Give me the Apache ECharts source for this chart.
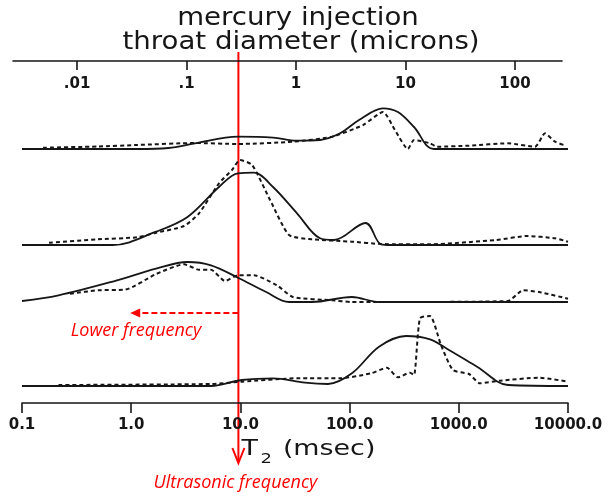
<!DOCTYPE html>
<html>
<head>
<meta charset="utf-8">
<script src="https://cdn.jsdelivr.net/npm/echarts@6/dist/echarts.min.js"></script>
<style>
  html, body { margin: 0; padding: 0; background: #ffffff; }
  #chart { width: 610px; height: 496px; }
</style>
</head>
<body>
<div id="chart"></div>
<script>
// T2 relaxation time axis (msec), log scale
const t2Min = 0.1;
const t2Max = 10000;
const t2TickLabels = { 0.1: '0.1', 1: '1.0', 10: '10.0', 100: '100.0', 1000: '1000.0', 10000: '10000.0' };

// Mercury injection throat diameter axis (microns), log scale
const throatMin = 0.0026;
const throatMax = 269;
const throatTicks = [0.01, 0.1, 1, 10, 100];
const throatTickLabels = ['.01', '.1', '1', '10', '100'];

// Sample 1: [T2 (msec), relative amplitude]
const s1Solid = [[0.1, 0], [1.13, 0], [2.2, 1], [3.84, 5.7], [9.5, 12.3], [19.9, 11.3], [33, 8.3], [53.6, 9], [81.7, 15.7], [122, 29], [202, 40.7], [277, 37], [389, 22], [593, 0], [10000, 0]];
const s1Dashed = [[0.156, 1.3], [0.5, 2.5], [1.13, 4], [3.84, 6], [9.5, 5], [30.3, 7.3], [69, 12.3], [133, 24], [202, 37], [260, 19], [342, 0], [389, 9], [545, 5.7], [631, 2.3], [1240, 3.3], [2820, 5.7], [4990, 2.3], [6150, 15.7], [7600, 7.3], [9600, 3.3]];

// Sample 2
const s2Solid = [[0.1, 0], [0.681, 0], [1.69, 13.3], [3.28, 28], [6.37, 58], [9.5, 71.7], [13.3, 72.3], [19.9, 58], [33, 31.7], [53.6, 6.7], [71.9, 5], [140, 22], [194, 0.7], [239, 0], [10000, 0]];
const s2Dashed = [[0.177, 2.3], [0.497, 5.7], [1.13, 7.7], [1.69, 12.3], [3.05, 19], [4.18, 31.7], [6.37, 61.7], [8.37, 75], [9.91, 85], [12.8, 80], [18.7, 45], [27.9, 10], [45.3, 5.7], [105, 3.3], [194, 1], [545, 0.7], [2190, 5], [4220, 9], [7600, 6.7], [10000, 3.3]];

// Sample 3
const s3Solid = [[0.1, 1], [0.216, 6.7], [0.741, 21.7], [1.69, 33.3], [3.28, 40], [5.38, 36.7], [9.5, 24.3], [17.2, 10], [27.9, 0], [45.3, 0], [105, 5], [186, 0], [10000, 0]];
const s3Dashed = [[0.275, 8.3], [0.497, 11.7], [0.877, 12.3], [1.69, 28], [3.05, 37.7], [4.18, 32.3], [5.38, 32.3], [7.22, 21], [9.5, 26.7], [13.3, 26.7], [21.6, 16.7], [30.3, 5], [69, 1.7], [105, 0], [157, 0], [239, 0], [2820, 1], [3870, 11.7], [5420, 10], [10000, 3.3]];

// Sample 4
const s4Solid = [[0.1, 0], [5.38, 0], [10.3, 6], [19.9, 7.7], [39.1, 3.3], [63.4, 2], [105, 12.7], [186, 39.3], [328, 50], [545, 46.7], [813, 36], [1470, 19.3], [2820, 1], [10000, 0]];
const s4Dashed = [[0.216, 1], [5.38, 2], [10.3, 4.3], [33, 7.7], [81.7, 7.7], [157, 12.7], [220, 18.3], [277, 8.7], [357, 13.3], [389, 11], [441, 67.7], [545, 70], [687, 41], [885, 16], [1240, 12], [1560, 2.7], [2380, 5.3], [5420, 8.3], [10000, 4.3]];

const ink = '#161616';
const red = '#ff0000';
const labelFont = { color: ink, fontFamily: 'DejaVu Sans', fontWeight: 'bold', fontSize: 15 };

// Panel layout: [top, height] in px; 1 amplitude unit = 1 px
const panels = [[104, 45], [155, 90], [257, 45], [311, 75]];

const grids = [{ left: 13, right: 48, top: 61, height: 10 }];
const xAxes = [{
  gridIndex: 0, type: 'log', position: 'top', min: throatMin, max: throatMax,
  axisLine: { show: true, onZero: false, lineStyle: { color: ink, width: 1.6 } },
  axisTick: { show: true, inside: true, length: 9, lineStyle: { color: ink, width: 1.6 }, customValues: throatTicks },
  axisLabel: {
    show: true, inside: true, margin: 16, ...labelFont, customValues: throatTicks,
    formatter: v => throatTickLabels[throatTicks.findIndex(t => Math.abs(Math.log10(t) - Math.log10(v)) < 1e-6)] || ''
  },
  minorTick: { show: false }, splitLine: { show: false }
}];
const yAxes = [{ gridIndex: 0, type: 'value', show: false, min: 0, max: 1 }];

panels.forEach((p, i) => {
  const last = i === panels.length - 1;
  grids.push({ left: 22, right: 42, top: p[0], height: p[1] });
  xAxes.push({
    gridIndex: i + 1, type: 'log', min: t2Min, max: t2Max, logBase: 10,
    show: last, position: 'bottom', offset: last ? 17 : 0,
    axisLine: { show: true, onZero: false, lineStyle: { color: ink, width: 1.6 } },
    axisTick: { show: true, length: 10, lineStyle: { color: ink, width: 1.6 } },
    axisLabel: { show: true, margin: 15, ...labelFont, formatter: v => t2TickLabels[v] || '' },
    splitLine: { show: false }
  });
  yAxes.push({ gridIndex: i + 1, type: 'value', show: false, min: 0, max: p[1] });
});

const samples = [[s1Solid, s1Dashed], [s2Solid, s2Dashed], [s3Solid, s3Dashed], [s4Solid, s4Dashed]];
const series = [];
samples.forEach((pair, i) => {
  series.push({
    type: 'line', xAxisIndex: i + 1, yAxisIndex: i + 1, data: pair[0],
    showSymbol: false, smooth: 0.35, silent: true,
    lineStyle: { color: ink, width: 1.8 }
  });
  series.push({
    type: 'line', xAxisIndex: i + 1, yAxisIndex: i + 1, data: pair[1],
    showSymbol: false, smooth: 0.2, silent: true,
    lineStyle: { color: ink, width: 2, type: [4, 3] }
  });
});

const chart = echarts.init(document.getElementById('chart'), null, { renderer: 'canvas' });
chart.setOption({
  backgroundColor: '#ffffff',
  animation: false,
  grid: grids,
  xAxis: xAxes,
  yAxis: yAxes,
  series: series
});

// Annotations: ultrasonic cut-off at T2 = 10 msec and the lower-frequency direction
const xUltra = chart.convertToPixel({ xAxisIndex: 4 }, 10) - 2;
const xLower = chart.convertToPixel({ xAxisIndex: 4 }, 1);
chart.setOption({
  graphic: [
    {
      type: 'text', x: 298, y: 7, scaleX: 1.15,
      style: { text: 'mercury injection', font: '24px "DejaVu Sans"', fill: ink, textAlign: 'center' }
    },
    {
      type: 'text', x: 301, y: 31, scaleX: 1.15,
      style: { text: 'throat diameter (microns)', font: '24px "DejaVu Sans"', fill: ink, textAlign: 'center' }
    },
    {
      type: 'text', x: xUltra + 3, y: 439, scaleX: 1.28,
      style: {
        text: '{a|T}{b|2}{a| (msec)}', fill: ink,
        rich: {
          a: { fontFamily: 'DejaVu Sans', fontSize: 21, fill: ink, verticalAlign: 'top' },
          b: { fontFamily: 'DejaVu Sans', fontSize: 14, fill: ink, padding: [13, 2, 0, 2] }
        }
      }
    },
    {
      type: 'line', shape: { x1: xUltra, y1: 52, x2: xUltra, y2: 462 },
      style: { stroke: red, lineWidth: 2 }
    },
    {
      type: 'polyline', shape: { points: [[xUltra - 6, 448], [xUltra, 463], [xUltra + 6, 448]] },
      style: { stroke: red, lineWidth: 2, fill: null }
    },
    {
      type: 'line', shape: { x1: xUltra, y1: 313, x2: xLower + 8, y2: 313 },
      style: { stroke: red, lineWidth: 2, lineDash: [6, 3] }
    },
    {
      type: 'polygon', shape: { points: [[xLower - 1, 313], [xLower + 9, 308.5], [xLower + 9, 317.5]] },
      style: { fill: red }
    },
    {
      type: 'text', x: 136, y: 331,
      style: { text: 'Lower frequency', font: 'italic 18px "Open Sans"', fill: red, textAlign: 'center', textVerticalAlign: 'middle' }
    },
    {
      type: 'text', x: xUltra - 3, y: 483,
      style: { text: 'Ultrasonic frequency', font: 'italic 18px "Open Sans"', fill: red, textAlign: 'center', textVerticalAlign: 'middle' }
    }
  ]
});
</script>
</body>
</html>
